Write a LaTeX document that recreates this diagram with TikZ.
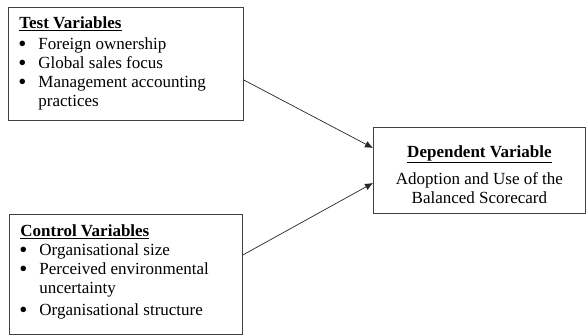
\documentclass[tikz,border=0pt]{standalone}
\usepackage{fontspec}
\setmainfont{Liberation Serif}
\usetikzlibrary{arrows.meta}
\newcommand{\bigbul}{\smash{\raisebox{-2.6pt}{\scalebox{1.35}{\textbullet}}}}
\newcommand{\bitem}[1]{\par\noindent\hspace*{10pt}\makebox[20pt][l]{\bigbul}#1}
\newcommand{\bcont}[1]{\par\noindent\hspace*{30pt}#1}
\newcommand{\bhead}[1]{\noindent\hspace*{11pt}\underline{\textbf{#1}}}
\begin{document}
\begin{tikzpicture}[x=1pt,y=-1pt,
  box/.style={draw=black!75, line width=0.8pt, inner sep=0pt, anchor=north west},
  conn/.style={draw=black!85, line width=0.7pt, -{Latex[length=8pt,width=7pt]}}]
\useasboundingbox (0,0) rectangle (588,336);
\node[box] (test) at (8,7) {\begin{minipage}[t][113pt][t]{235pt}
\fontsize{17}{19}\selectfont\parskip=0pt
\vspace*{9pt}\bhead{Test Variables}\par\vspace*{2pt}
\bitem{Foreign ownership}
\bitem{Global sales focus}
\bitem{Management accounting}
\bcont{practices}
\end{minipage}};
\node[box] (ctrl) at (9,214) {\begin{minipage}[t][120pt][t]{233pt}
\fontsize{17}{19}\selectfont\parskip=0pt
\vspace*{10pt}\bhead{Control Variables}
\bitem{Organisational size}
\bitem{Perceived environmental}
\bcont{uncertainty}
\par\vspace*{3pt}
\bitem{Organisational structure}
\end{minipage}};
\node[box] (dep) at (373,127) {\begin{minipage}[t][86pt][t]{212pt}
\fontsize{17}{19}\selectfont\parskip=0pt\centering
\vspace*{18pt}\underline{\textbf{Dependent Variable}}\par\vspace*{8pt}
Adoption and Use of the\par
Balanced Scorecard\par
\end{minipage}};
\coordinate (t1) at (373,148);
\coordinate (t2) at (373,183);
\draw[conn] (test.east |- 0,80) -- (t1);
\draw[conn] (ctrl.east |- 0,255) -- (t2);
\end{tikzpicture}
\end{document}
